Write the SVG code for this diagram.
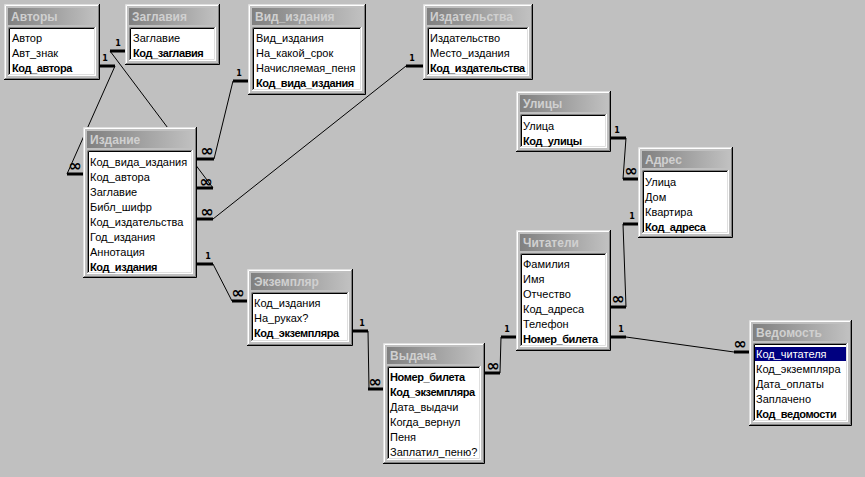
<svg xmlns="http://www.w3.org/2000/svg" width="865" height="477" viewBox="0 0 865 477">
<defs>
<linearGradient id="tg" x1="0" y1="0" x2="1" y2="0">
<stop offset="0" stop-color="#808080"/>
<stop offset="1" stop-color="#c0c0c0"/>
</linearGradient>
</defs>
<style>
.f{fill:#c0c0c0}
.l1{fill:none;stroke:#dfdfdf}
.l2{fill:none;stroke:#ffffff}
.d1{fill:none;stroke:#000000}
.d2{fill:none;stroke:#808080}
.t{fill:url(#tg)}
.tt{font-family:"Liberation Sans",Arial,sans-serif;font-size:12px;font-weight:bold;fill:#d0d0d0}
.lb{fill:#ffffff}
.s1{fill:none;stroke:#808080}
.s2{fill:none;stroke:#000000}
.s3{fill:none;stroke:#ffffff}
.s4{fill:none;stroke:#dfdfdf}
.r{font-family:"Liberation Sans",Arial,sans-serif;font-size:11px;fill:#000}
.b{font-weight:bold;letter-spacing:-0.4px}
.hl{fill:#000080}
.w{fill:#ffffff}
.ln{fill:none;stroke:#000;stroke-width:1}
.st{fill:none;stroke:#000;stroke-width:3}
.one{font-family:"DejaVu Sans",sans-serif;font-size:8px;font-weight:bold;fill:#000;text-anchor:middle}
.inf{font-family:"DejaVu Sans",sans-serif;font-size:16px;font-weight:bold;fill:#000;text-anchor:middle}
</style>
<rect width="865" height="477" fill="#c0c0c0"/>

<g id="connectors">
<path class="ln" d="M115 66L67 174"/>
<path class="st" d="M100 66H115"/>
<text class="one" x="105" y="61">1</text>
<path class="st" d="M67 174H83"/>
<text class="inf" x="75" y="171">∞</text>

<path class="ln" d="M110 51L213 188"/>
<path class="st" d="M110 51H125"/>
<text class="one" x="118" y="46">1</text>
<path class="st" d="M197 188H213"/>
<text class="inf" x="206" y="187">∞</text>

<path class="ln" d="M233 81L214 159"/>
<path class="st" d="M233 81H248"/>
<text class="one" x="239" y="76">1</text>
<path class="st" d="M197 159H214"/>
<text class="inf" x="207" y="156">∞</text>

<path class="ln" d="M406 66L213 219"/>
<path class="st" d="M406 66H423"/>
<text class="one" x="412" y="61">1</text>
<path class="st" d="M197 219H213"/>
<text class="inf" x="207" y="217">∞</text>

<path class="ln" d="M213 264L232 301"/>
<path class="st" d="M197 264H213"/>
<text class="one" x="208" y="259">1</text>
<path class="st" d="M232 301H247"/>
<text class="inf" x="238" y="298">∞</text>

<path class="ln" d="M368 331L369 389"/>
<path class="st" d="M353 331H368"/>
<text class="one" x="362" y="326">1</text>
<path class="st" d="M368 389H383"/>
<text class="inf" x="375" y="387">∞</text>

<path class="ln" d="M501 337L500 373"/>
<path class="st" d="M501 337H516"/>
<text class="one" x="507" y="332">1</text>
<path class="st" d="M485 373H500"/>
<text class="inf" x="493" y="371">∞</text>

<path class="ln" d="M626 337L734 352"/>
<path class="st" d="M611 337H626"/>
<text class="one" x="621" y="332">1</text>
<path class="st" d="M734 352H749"/>
<text class="inf" x="740" y="349">∞</text>

<path class="ln" d="M623 224L626 307"/>
<path class="st" d="M623 224H638"/>
<text class="one" x="632" y="219">1</text>
<path class="st" d="M611 307H626"/>
<text class="inf" x="618" y="304">∞</text>

<path class="ln" d="M626 138L623 179"/>
<path class="st" d="M611 138H626"/>
<text class="one" x="617" y="133">1</text>
<path class="st" d="M623 179H638"/>
<text class="inf" x="631" y="176">∞</text>
</g>

<g id="avtory" transform="translate(4,4)">
<rect class="f" width="96" height="76"/>
<path class="l1" d="M0.5 75V0.5H95"/><path class="l2" d="M1.5 74V1.5H94"/>
<path class="d1" d="M0 75.5H95.5V0"/><path class="d2" d="M1 74.5H94.5V1"/>
<rect class="t" x="4" y="4" width="88" height="17"/>
<text class="tt" x="7" y="17">Авторы</text>
<rect class="lb" x="4" y="23" width="88" height="49"/>
<path class="s1" d="M4.5 72V23.5H92"/><path class="s2" d="M5.5 71V24.5H91"/>
<path class="s3" d="M4 71.5H91.5V23"/><path class="s4" d="M5 70.5H90.5V24"/>
<text class="r" x="8" y="38">Автор</text>
<text class="r" x="8" y="53">Авт_знак</text>
<text class="r b" x="8" y="68">Код_автора</text>
</g>

<g id="zaglavia" transform="translate(125,4)">
<rect class="f" width="95" height="61"/>
<path class="l1" d="M0.5 60V0.5H94"/><path class="l2" d="M1.5 59V1.5H93"/>
<path class="d1" d="M0 60.5H94.5V0"/><path class="d2" d="M1 59.5H93.5V1"/>
<rect class="t" x="4" y="4" width="87" height="17"/>
<text class="tt" x="7" y="17">Заглавия</text>
<rect class="lb" x="4" y="23" width="87" height="34"/>
<path class="s1" d="M4.5 57V23.5H91"/><path class="s2" d="M5.5 56V24.5H90"/>
<path class="s3" d="M4 56.5H90.5V23"/><path class="s4" d="M5 55.5H89.5V24"/>
<text class="r" x="8" y="38">Заглавие</text>
<text class="r b" x="8" y="53">Код_заглавия</text>
</g>

<g id="vid_izdania" transform="translate(248,4)">
<rect class="f" width="118" height="91"/>
<path class="l1" d="M0.5 90V0.5H117"/><path class="l2" d="M1.5 89V1.5H116"/>
<path class="d1" d="M0 90.5H117.5V0"/><path class="d2" d="M1 89.5H116.5V1"/>
<rect class="t" x="4" y="4" width="110" height="17"/>
<text class="tt" x="7" y="17">Вид_издания</text>
<rect class="lb" x="4" y="23" width="110" height="64"/>
<path class="s1" d="M4.5 87V23.5H114"/><path class="s2" d="M5.5 86V24.5H113"/>
<path class="s3" d="M4 86.5H113.5V23"/><path class="s4" d="M5 85.5H112.5V24"/>
<text class="r" x="8" y="38">Вид_издания</text>
<text class="r" x="8" y="53">На_какой_срок</text>
<text class="r" x="8" y="68">Начисляемая_пеня</text>
<text class="r b" x="8" y="83">Код_вида_издания</text>
</g>

<g id="izdatelstva" transform="translate(423,4)">
<rect class="f" width="110" height="76"/>
<path class="l1" d="M0.5 75V0.5H109"/><path class="l2" d="M1.5 74V1.5H108"/>
<path class="d1" d="M0 75.5H109.5V0"/><path class="d2" d="M1 74.5H108.5V1"/>
<rect class="t" x="4" y="4" width="102" height="17"/>
<text class="tt" x="7" y="17">Издательства</text>
<rect class="lb" x="4" y="23" width="102" height="49"/>
<path class="s1" d="M4.5 72V23.5H106"/><path class="s2" d="M5.5 71V24.5H105"/>
<path class="s3" d="M4 71.5H105.5V23"/><path class="s4" d="M5 70.5H104.5V24"/>
<text class="r" x="7" y="38">Издательство</text>
<text class="r" x="7" y="53">Место_издания</text>
<text class="r b" x="7" y="68">Код_издательства</text>
</g>

<g id="izdanie" transform="translate(83,127)">
<rect class="f" width="114" height="151"/>
<path class="l1" d="M0.5 150V0.5H113"/><path class="l2" d="M1.5 149V1.5H112"/>
<path class="d1" d="M0 150.5H113.5V0"/><path class="d2" d="M1 149.5H112.5V1"/>
<rect class="t" x="4" y="4" width="106" height="17"/>
<text class="tt" x="7" y="17">Издание</text>
<rect class="lb" x="4" y="23" width="106" height="124"/>
<path class="s1" d="M4.5 147V23.5H110"/><path class="s2" d="M5.5 146V24.5H109"/>
<path class="s3" d="M4 146.5H109.5V23"/><path class="s4" d="M5 145.5H108.5V24"/>
<text class="r" x="7" y="39">Код_вида_издания</text>
<text class="r" x="7" y="54">Код_автора</text>
<text class="r" x="7" y="69">Заглавие</text>
<text class="r" x="7" y="84">Библ_шифр</text>
<text class="r" x="7" y="99">Код_издательства</text>
<text class="r" x="7" y="114">Год_издания</text>
<text class="r" x="7" y="129">Аннотация</text>
<text class="r b" x="7" y="144">Код_издания</text>
</g>

<g id="ulicy" transform="translate(516,91)">
<rect class="f" width="95" height="61"/>
<path class="l1" d="M0.5 60V0.5H94"/><path class="l2" d="M1.5 59V1.5H93"/>
<path class="d1" d="M0 60.5H94.5V0"/><path class="d2" d="M1 59.5H93.5V1"/>
<rect class="t" x="4" y="4" width="87" height="17"/>
<text class="tt" x="7" y="17">Улицы</text>
<rect class="lb" x="4" y="23" width="87" height="34"/>
<path class="s1" d="M4.5 57V23.5H91"/><path class="s2" d="M5.5 56V24.5H90"/>
<path class="s3" d="M4 56.5H90.5V23"/><path class="s4" d="M5 55.5H89.5V24"/>
<text class="r" x="7" y="39">Улица</text>
<text class="r b" x="7" y="54">Код_улицы</text>
</g>

<g id="adres" transform="translate(638,147)">
<rect class="f" width="95" height="91"/>
<path class="l1" d="M0.5 90V0.5H94"/><path class="l2" d="M1.5 89V1.5H93"/>
<path class="d1" d="M0 90.5H94.5V0"/><path class="d2" d="M1 89.5H93.5V1"/>
<rect class="t" x="4" y="4" width="87" height="17"/>
<text class="tt" x="7" y="17">Адрес</text>
<rect class="lb" x="4" y="23" width="87" height="64"/>
<path class="s1" d="M4.5 87V23.5H91"/><path class="s2" d="M5.5 86V24.5H90"/>
<path class="s3" d="M4 86.5H90.5V23"/><path class="s4" d="M5 85.5H89.5V24"/>
<text class="r" x="7" y="39">Улица</text>
<text class="r" x="7" y="54">Дом</text>
<text class="r" x="7" y="69">Квартира</text>
<text class="r b" x="7" y="84">Код_адреса</text>
</g>

<g id="chitateli" transform="translate(516,230)">
<rect class="f" width="95" height="121"/>
<path class="l1" d="M0.5 120V0.5H94"/><path class="l2" d="M1.5 119V1.5H93"/>
<path class="d1" d="M0 120.5H94.5V0"/><path class="d2" d="M1 119.5H93.5V1"/>
<rect class="t" x="4" y="4" width="87" height="17"/>
<text class="tt" x="7" y="17">Читатели</text>
<rect class="lb" x="4" y="23" width="87" height="94"/>
<path class="s1" d="M4.5 117V23.5H91"/><path class="s2" d="M5.5 116V24.5H90"/>
<path class="s3" d="M4 116.5H90.5V23"/><path class="s4" d="M5 115.5H89.5V24"/>
<text class="r" x="7" y="38">Фамилия</text>
<text class="r" x="7" y="53">Имя</text>
<text class="r" x="7" y="68">Отчество</text>
<text class="r" x="7" y="83">Код_адреса</text>
<text class="r" x="7" y="98">Телефон</text>
<text class="r b" x="7" y="113">Номер_билета</text>
</g>

<g id="vedomost" transform="translate(749,320)">
<rect class="f" width="103" height="106"/>
<path class="l1" d="M0.5 105V0.5H102"/><path class="l2" d="M1.5 104V1.5H101"/>
<path class="d1" d="M0 105.5H102.5V0"/><path class="d2" d="M1 104.5H101.5V1"/>
<rect class="t" x="4" y="4" width="95" height="17"/>
<text class="tt" x="7" y="17">Ведомость</text>
<rect class="lb" x="4" y="23" width="95" height="79"/>
<path class="s1" d="M4.5 102V23.5H99"/><path class="s2" d="M5.5 101V24.5H98"/>
<path class="s3" d="M4 101.5H98.5V23"/><path class="s4" d="M5 100.5H97.5V24"/>
<rect class="hl" x="6" y="27" width="91" height="14"/>
<text class="r w" x="7" y="38">Код_читателя</text>
<text class="r" x="7" y="53">Код_экземпляра</text>
<text class="r" x="7" y="68">Дата_оплаты</text>
<text class="r" x="7" y="83">Заплачено</text>
<text class="r b" x="7" y="98">Код_ведомости</text>
</g>

<g id="ekzemplyar" transform="translate(247,269)">
<rect class="f" width="106" height="77"/>
<path class="l1" d="M0.5 76V0.5H105"/><path class="l2" d="M1.5 75V1.5H104"/>
<path class="d1" d="M0 76.5H105.5V0"/><path class="d2" d="M1 75.5H104.5V1"/>
<rect class="t" x="4" y="4" width="98" height="17"/>
<text class="tt" x="7" y="17">Экземпляр</text>
<rect class="lb" x="4" y="23" width="98" height="50"/>
<path class="s1" d="M4.5 73V23.5H102"/><path class="s2" d="M5.5 72V24.5H101"/>
<path class="s3" d="M4 72.5H101.5V23"/><path class="s4" d="M5 71.5H100.5V24"/>
<text class="r" x="7" y="38">Код_издания</text>
<text class="r" x="7" y="53">На_руках?</text>
<text class="r b" x="7" y="68">Код_экземпляра</text>
</g>

<g id="vydacha" transform="translate(383,343)">
<rect class="f" width="102" height="121"/>
<path class="l1" d="M0.5 120V0.5H101"/><path class="l2" d="M1.5 119V1.5H100"/>
<path class="d1" d="M0 120.5H101.5V0"/><path class="d2" d="M1 119.5H100.5V1"/>
<rect class="t" x="4" y="4" width="94" height="17"/>
<text class="tt" x="7" y="17">Выдача</text>
<rect class="lb" x="4" y="23" width="94" height="94"/>
<path class="s1" d="M4.5 117V23.5H98"/><path class="s2" d="M5.5 116V24.5H97"/>
<path class="s3" d="M4 116.5H97.5V23"/><path class="s4" d="M5 115.5H96.5V24"/>
<text class="r b" x="7" y="38">Номер_билета</text>
<text class="r b" x="7" y="53">Код_экземпляра</text>
<text class="r" x="7" y="68">Дата_выдачи</text>
<text class="r" x="7" y="83">Когда_вернул</text>
<text class="r" x="7" y="98">Пеня</text>
<text class="r" x="7" y="113">Заплатил_пеню?</text>
</g>
</svg>
